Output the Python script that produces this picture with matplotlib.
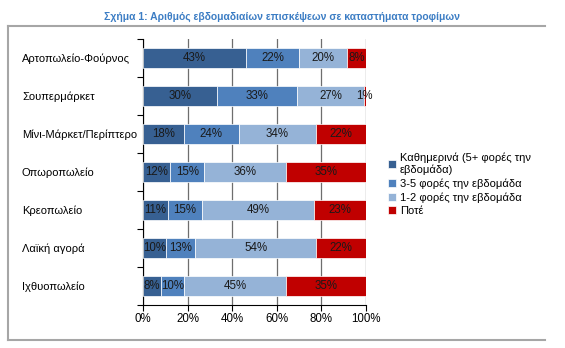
import matplotlib
matplotlib.use('Agg')
import matplotlib.pyplot as plt
from matplotlib.lines import Line2D
import numpy as np

plt.rcParams['font.family'] = ['Liberation Sans', 'DejaVu Sans']

categories = ['Αρτοπωλείο-Φούρνος', 'Σουπερμάρκετ', 'Μίνι-Μάρκετ/Περίπτερο',
              'Οπωροπωλείο', 'Κρεοπωλείο', 'Λαϊκή αγορά', 'Ιχθυοπωλείο']
daily = [43, 30, 18, 12, 11, 10, 8]
three_five = [22, 33, 24, 15, 15, 13, 10]
one_two = [20, 27, 34, 36, 49, 54, 45]
never = [8, 1, 22, 35, 23, 22, 35]

series_names = ['Καθημερινά (5+ φορές την\nεβδομάδα)', '3-5 φορές την εβδομάδα',
                '1-2 φορές την εβδομάδα', 'Ποτέ']
colors = ['#376092', '#4F81BD', '#95B3D7', '#C00000']
x_ticks = [0, 20, 40, 60, 80, 100]


def main():
    fig = plt.figure(figsize=(5.65, 3.48), dpi=100)
    ax = fig.add_axes([143 / 565, 1 - 305 / 348, 223 / 565, 266 / 348])

    data = np.array([daily, three_five, one_two, never], dtype=float)
    # bars are 100% stacked: normalise each row, labels keep the raw values
    shares = data / data.sum(axis=0) * 100
    y = np.arange(len(categories))
    left = np.zeros(len(categories))
    for i in range(len(series_names)):
        ax.barh(y, shares[i], left=left, height=0.52, color=colors[i],
                edgecolor='white', linewidth=0.5, label=series_names[i], zorder=3)
        for j in range(len(categories)):
            ax.text(left[j] + shares[i][j] / 2, y[j], '%d%%' % data[i][j],
                    ha='center', va='center', fontsize=8.3, color='#1a1a1a', zorder=4)
        left += shares[i]

    ax.set_xlim(0, 100)
    ax.set_ylim(len(categories) - 0.5, -0.5)
    ax.set_xticks(x_ticks)
    ax.set_xticklabels(['%d%%' % t for t in x_ticks], fontsize=8.3)
    ax.set_yticks(y)
    ax.set_yticklabels(categories, fontsize=8, ha='left')
    ax.set_yticks(np.arange(-0.5, len(categories)), minor=True)
    # labels are left aligned at the left edge of the chart frame
    ax.tick_params(axis='y', which='major', length=0, pad=(143 - 22) * 0.72)
    ax.tick_params(axis='y', which='minor', length=4, color='black', width=0.8)
    ax.tick_params(axis='x', length=4, color='black', width=0.8, pad=2)
    ax.grid(axis='x', color='#6e6e6e', linewidth=0.9, zorder=0)
    for s in ['top', 'right']:
        ax.spines[s].set_visible(False)
    ax.spines['left'].set_color('black')
    ax.spines['bottom'].set_color('black')

    fig.legend(loc='center left', bbox_to_anchor=(388 / 565, 1 - 184 / 348),
               fontsize=8, frameon=False, handlelength=0.75, handleheight=0.75,
               handletextpad=0.3, labelspacing=0.3, borderpad=0, borderaxespad=0)

    fig.text(0.5, 1 - 17 / 348, 'Σχήμα 1: Αριθμός εβδομαδιαίων επισκέψεων σε καταστήματα τροφίμων',
             ha='center', va='center', fontsize=7.5, fontweight='bold', color='#3C7DC4')

    # frame around the figure (top, left, bottom)
    fr = dict(color='#A6A6A6', linewidth=1.5, transform=fig.transFigure)
    x0, x1 = 8 / 565, 545 / 565
    y0, y1 = 1 - 340 / 348, 1 - 26 / 348
    fig.add_artist(Line2D([x0, x1], [y1, y1], **fr))
    fig.add_artist(Line2D([x0, x1], [y0, y0], **fr))
    fig.add_artist(Line2D([x0, x0], [y0, y1], **fr))

    fig.savefig('out.png', dpi=100)


if __name__ == "__main__":
    main()
